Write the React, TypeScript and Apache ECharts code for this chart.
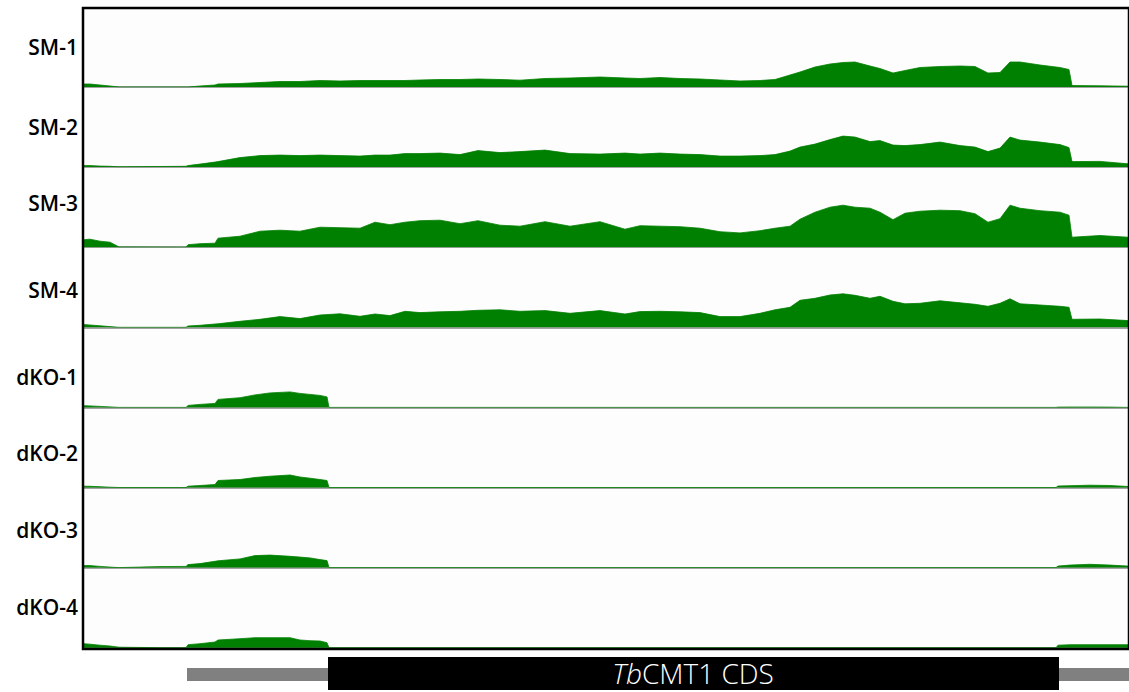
import React, { useEffect, useRef } from "react";
import * as echarts from "echarts";

// Genomic positions (relative units along the locus) for the SM tracks
const SM_POS = [0, 6, 16, 26, 35, 102, 104, 116, 131, 134, 156, 176, 196, 216, 236, 256, 276, 291, 306, 321, 336, 356, 376, 394, 416, 436, 461, 486, 516, 541, 556, 576, 596, 616, 636, 656, 676, 691, 706, 716, 731, 746, 759, 771, 786, 796, 809, 821, 836, 856, 876, 891, 904, 916, 926, 936, 956, 976, 985, 988, 1016, 1044];

const SM1 = [3, 3, 2, 1, 0, 0, 0, 1, 2, 3, 3.5, 4.5, 5.5, 5.5, 6.5, 6, 6.5, 6.5, 6.5, 6.5, 7, 7.5, 7.5, 8, 7.5, 6.8, 8.5, 9, 10, 9, 8.5, 9.5, 8.5, 8, 7, 6, 6.5, 7.5, 12, 15, 20, 23, 24.5, 25, 21, 18.5, 14, 16.5, 19.5, 20.5, 21, 20.5, 14, 14.5, 25, 25, 22, 19.5, 17.5, 1.5, 1.2, 0.8];
const SM2 = [1.5, 1.5, 1, 0.8, 0.3, 0.8, 1.5, 3, 5, 5.5, 9.5, 11.5, 12, 11.5, 12, 11.5, 11, 12, 12, 13.5, 13.5, 14, 12.5, 16.5, 14.5, 15.5, 17, 13.5, 13, 14, 13, 14, 13, 12.5, 11, 11, 11.5, 12.5, 16, 20, 23, 27.5, 31, 30, 25.5, 26.5, 22, 21.5, 22.5, 25, 21.5, 20, 15.5, 19, 30, 27, 25, 22.5, 19.5, 5.5, 5.7, 3.3];
const SM3 = [7.5, 8, 6, 5, 0.3, 0, 2.5, 3.5, 4, 9, 11, 16, 17, 16, 20, 19.5, 19, 25, 22.5, 25, 26.5, 27, 23.5, 26.5, 22, 21, 25.5, 21, 25.5, 18, 21.5, 21, 20.5, 19, 15.5, 14.3, 16.5, 19, 21, 28, 35, 40, 42, 40, 39, 35, 27.5, 34, 36, 37, 36.5, 33.5, 25, 28.5, 42, 39, 36.5, 35, 32, 10, 11.7, 10];
const SM4 = [2.7, 2.3, 1.5, 0.7, 0, 0, 1.3, 2, 3.3, 3.5, 6, 8, 10.7, 8.7, 12.3, 13.5, 11, 13.3, 11.7, 16, 14.7, 15.5, 16, 17, 17.5, 16, 16.7, 14, 16.7, 13.3, 15.7, 16, 15.5, 14.7, 10.7, 10.7, 14, 17.5, 20, 27, 29, 32.3, 33.5, 32, 29, 31, 26, 23.5, 24, 26.5, 24.5, 23, 21, 24, 28.5, 23.5, 22.3, 21, 20, 8, 8.3, 6.7];

// Genomic positions for the dKO tracks
const DKO_POS = [0, 6, 16, 26, 35, 76, 102, 104, 116, 131, 134, 156, 171, 186, 206, 216, 226, 236, 243, 245, 972, 974, 986, 1006, 1026, 1044];
const DKO1 = [1.7, 1.5, 1, 0.5, 0, 0, 0, 2, 3, 4, 8, 9.7, 12.5, 14.5, 15.5, 14, 13, 12, 10.5, 0, 0, 0.3, 0.4, 0.4, 0.3, 0];
const DKO2 = [1.3, 1.2, 0.8, 0.3, 0, 0, 0, 1.3, 2, 3, 7, 8, 10, 11.3, 12.5, 10.5, 9.3, 8, 7, 0, 0, 1.5, 1.8, 2.3, 2, 1];
const DKO3 = [2, 2, 1.2, 0.5, 0, 1, 1.2, 3, 4, 6.3, 6.8, 8.7, 12, 12.5, 11.3, 10.5, 9.7, 8, 7, 0, 0, 1.5, 2.5, 3.3, 2.5, 1.5];
const DKO4 = [4, 3.5, 2.5, 1.7, 0.5, 0, 0, 3, 4, 5.7, 7.7, 9, 10, 10, 10, 7.7, 7, 6.7, 5, 0, 0, 2.5, 3, 3, 3, 3];

const TRACK_NAMES = ["SM-1", "SM-2", "SM-3", "SM-4", "dKO-1", "dKO-2", "dKO-3", "dKO-4"];
const LOCUS_MAX = 1044;
const TRACK_MAX = 79;

export default function App() {
  const ref = useRef<HTMLDivElement>(null);
  useEffect(() => {
    if (!ref.current) return;
    const chart = echarts.init(ref.current, null, { renderer: "svg" });
    const tracks = [
      { pos: SM_POS, vals: SM1 },
      { pos: SM_POS, vals: SM2 },
      { pos: SM_POS, vals: SM3 },
      { pos: SM_POS, vals: SM4 },
      { pos: DKO_POS, vals: DKO1 },
      { pos: DKO_POS, vals: DKO2 },
      { pos: DKO_POS, vals: DKO3 },
      { pos: DKO_POS, vals: DKO4 },
    ];
    const labelY = [47, 127, 203, 290, 377, 453, 530, 607];
    const grids = tracks.map((_, i) => ({ left: 84, width: 1044, top: 8 + 80.1 * i, height: 79 }));
    const xAxes = tracks.map((_, i) => ({
      type: "value", gridIndex: i, min: 0, max: LOCUS_MAX,
      axisLine: { show: true, lineStyle: { color: "#858585", width: 1.5 } },
      axisTick: { show: false }, axisLabel: { show: false }, splitLine: { show: false },
    }));
    const yAxes = tracks.map((_, i) => ({ type: "value", gridIndex: i, min: 0, max: TRACK_MAX, show: false }));
    const series = tracks.map((t, i) => ({
      type: "line", xAxisIndex: i, yAxisIndex: i, name: TRACK_NAMES[i],
      data: t.pos.map((p, k) => [p, t.vals[k]]),
      symbol: "none", smooth: false,
      lineStyle: { color: "#008000", width: 0.8 },
      areaStyle: { color: "#008000", opacity: 1 },
      z: 2,
    }));
    const labels = TRACK_NAMES.map((n, i) => ({
      type: "text", x: 78, y: labelY[i],
      style: { text: n, textAlign: "right", textVerticalAlign: "middle", font: "600 21px 'Open Sans', sans-serif", fill: "#000" },
    }));
    chart.setOption({
      animation: false,
      backgroundColor: "#ffffff",
      grid: grids,
      xAxis: xAxes,
      yAxis: yAxes,
      series,
      graphic: [
        { type: "rect", shape: { x: 84, y: 8, width: 1044, height: 641 }, style: { fill: "#fdfdfd" }, z: -10 },
        ...labels,
        { type: "rect", shape: { x: 83, y: 8, width: 1046, height: 641 }, style: { fill: "none", stroke: "#000", lineWidth: 2.5 }, z: 100 },
        { type: "rect", shape: { x: 187, y: 668, width: 942, height: 13 }, style: { fill: "#808080" }, z: 100 },
        { type: "rect", shape: { x: 328, y: 657, width: 731, height: 33 }, style: { fill: "#000" }, z: 101 },
        {
          type: "text", x: 693, y: 673, z: 102,
          style: {
            text: "{i|Tb}{n|CMT1 CDS}", textAlign: "center", textVerticalAlign: "middle",
            rich: {
              i: { fontStyle: "italic", fontSize: 28, lineHeight: 28, fontFamily: "'Open Sans', sans-serif", fill: "#fff", fontWeight: 300 },
              n: { fontSize: 28, lineHeight: 28, fontFamily: "'Open Sans', sans-serif", fill: "#fff", fontWeight: 300 },
            },
          },
        },
      ],
    });
    return () => chart.dispose();
  }, []);
  return <div ref={ref} style={{ position: "fixed", left: 0, top: 0, width: 1129, height: 692 }} />;
}
